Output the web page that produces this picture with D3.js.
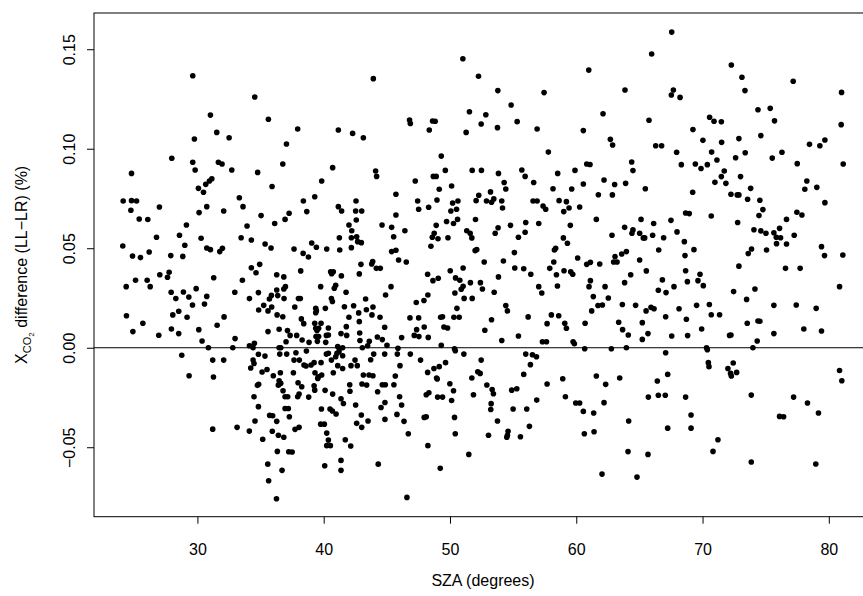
<!DOCTYPE html>
<html>
<head>
<meta charset="utf-8">
<script src="https://d3js.org/d3.v7.min.js"></script>
<style>
  body { margin: 0; background: #fff; }
  svg { display: block; }
  text { font-family: "Liberation Sans", Arial, Helvetica, sans-serif; fill: #000; }
</style>
</head>
<body>
<div id="chart"></div>
<script>
// --- Data ---
const xTicks = [30, 40, 50, 60, 70, 80];
const yTicks = [-0.05, 0, 0.05, 0.10, 0.15];
const yTickLabels = ["\u22120.05", "0.00", "0.05", "0.10", "0.15"];

// [SZA (deg), XCO2 difference LL-LR (%)]
const points = [
  [29.63,0.1367],[34.54,0.126],[31.03,0.1169],[35.62,0.1148],[31.53,0.1082],[29.76,0.1049],[32.51,0.1055],[27.97,0.0952],[29.63,0.0932],[31.66,0.0932],[31.95,0.0923],[29.82,0.0893],[32.72,0.0893],[34.77,0.0881],[24.78,0.0876],[31.14,0.0849],
  [43.93,0.1352],[37.94,0.1099],[41.16,0.1094],[42.29,0.1077],[43.14,0.1055],[37.05,0.1024],[46.8,0.1144],[46.86,0.1127],[48.62,0.1139],[48.83,0.1138],[48.36,0.1094],[36.76,0.0923],[40.71,0.0905],[49.31,0.0963],[44.11,0.0888],[44.19,0.0861],[49.63,0.0891],[48.68,0.0861],[48.91,0.0861],
  [51.02,0.1452],[52.26,0.1364],[53.79,0.1292],[57.45,0.1282],[60.99,0.1395],[63.86,0.1295],[54.84,0.122],[51.54,0.1186],[52.84,0.1171],[52.47,0.1124],[55.32,0.1136],[53.76,0.1106],[51.28,0.1082],[56.9,0.1099],[62.12,0.1176],[60.56,0.1091],[62.7,0.1047],[62.88,0.1019],[57.79,0.0983],[60.83,0.0923],[61.09,0.0921],[51.76,0.0891],[52.49,0.0891],[53.84,0.0876],[55.69,0.0893],[55.95,0.0861],[58.53,0.0876],[59.9,0.0891],[64.39,0.0933],[64.49,0.089],[62.2,0.0843],
  [67.56,0.1586],[65.97,0.1476],[72.28,0.1421],[73.12,0.1359],[77.18,0.1339],[67.69,0.1295],[67.53,0.127],[73.36,0.1292],[68.22,0.1258],[81.01,0.1283],[74.39,0.1196],[75.36,0.1203],[70.56,0.1158],[70.91,0.1138],[71.49,0.1135],[75.7,0.114],[65.76,0.1143],[80.98,0.1121],[69.24,0.1096],[74.62,0.1066],[72.88,0.1051],[70.03,0.1042],[71.51,0.1032],[66.29,0.1015],[66.76,0.1015],[78.47,0.1022],[79.29,0.1015],[79.69,0.1044],[67.95,0.0982],[70.72,0.0983],[73.38,0.098],[76.29,0.0982],[71.14,0.0943],[72.62,0.0955],[75.52,0.0953],[68.32,0.092],[69.43,0.0923],[69.88,0.0901],[70.38,0.092],[77.5,0.0925],[81.14,0.0923],[71.72,0.0888],[71.49,0.086],[73.01,0.086],
  [30.08,0.0801],[30.48,0.0781],[30.66,0.0821],[30.95,0.0838],[35.91,0.081],[24.12,0.0737],[24.78,0.0739],[25.18,0.0737],[24.73,0.0691],[26.99,0.0707],[33.32,0.0754],[33.61,0.0709],[30.74,0.0709],[30.13,0.0679],[32.08,0.0687],[35.04,0.0664],[25.39,0.0647],[26.07,0.0644],[36.12,0.0624],[29.13,0.0617],[33.93,0.0612],[28.58,0.0565],[26.76,0.0555],[30.29,0.055],[33.46,0.0553],[34.27,0.0541],[35.36,0.0521],[35.83,0.0501],[24.09,0.0511],[29.0,0.0515],[30.74,0.0501],[31.03,0.0493],[31.77,0.0483],[31.98,0.05],[24.86,0.0461],[25.49,0.0453],[26.18,0.0481],[27.89,0.0463],[28.84,0.0459],[34.27,0.0402],[34.64,0.0377],[34.93,0.0419],[27.02,0.0367],[27.76,0.0379],[27.63,0.0354],[31.29,0.0352],[33.56,0.0339],[24.36,0.0307],[25.1,0.0339],[26.02,0.0339],[26.26,0.0307],[27.92,0.0279],[28.89,0.028],[28.29,0.0247],[29.32,0.0255],[29.9,0.0297],[30.74,0.0258],[32.96,0.0279],[34.12,0.0247],[34.83,0.0277],[35.86,0.0263],[35.7,0.0245],[29.61,0.0215],[30.56,0.022],[35.25,0.0213],[35.88,0.0205],[35.59,0.0185],[34.85,0.019],[28.05,0.0165],[28.52,0.0183],[29.18,0.0153],[24.38,0.0161],[32.11,0.0155],[31.56,0.0113],[25.68,0.0123],[27.94,0.0094],[28.52,0.0071],[24.89,0.0081],[26.94,0.0063],[30.11,0.0091],[35.59,0.0081],[30.37,0.0034],[30.87,0.0],[32.98,0.0046],[32.8,0.0],[34.12,0.001],[34.51,0.0022],[34.41,0.0],
  [39.84,0.0838],[47.25,0.0838],[50.13,0.0813],[49.15,0.0796],[45.72,0.0771],[39.29,0.0759],[38.39,0.0737],[42.56,0.0737],[47.44,0.0737],[47.52,0.0696],[48.31,0.0706],[48.97,0.0742],[50.21,0.0727],[50.63,0.0737],[50.52,0.0696],[50.07,0.0687],[41.16,0.0709],[41.42,0.0687],[42.53,0.0687],[43.01,0.0687],[38.66,0.0684],[37.26,0.0676],[36.94,0.0645],[45.72,0.0667],[42.58,0.0642],[49.73,0.0634],[50.6,0.0645],[50.28,0.0624],[42.0,0.0617],[42.22,0.0588],[44.62,0.0617],[45.38,0.0605],[46.43,0.0588],[48.91,0.0615],[48.75,0.0575],[48.6,0.0555],[49.05,0.0548],[48.49,0.051],[49.84,0.0553],[45.54,0.0558],[42.61,0.0558],[42.69,0.0533],[42.98,0.0528],[42.19,0.0553],[41.24,0.0553],[39.05,0.0526],[39.42,0.0505],[42.19,0.0503],[41.27,0.0491],[40.24,0.0496],[37.65,0.0496],[38.37,0.0474],[38.79,0.0456],[45.38,0.0483],[45.72,0.049],[45.93,0.0441],[46.54,0.0431],[43.88,0.0433],[43.8,0.0421],[42.95,0.0419],[44.17,0.0399],[44.48,0.0399],[50.02,0.0387],[38.18,0.0386],[40.55,0.0382],[40.76,0.0382],[40.63,0.0372],[41.4,0.0361],[42.82,0.0371],[48.23,0.0369],[48.65,0.0337],[49.07,0.0349],[50.44,0.0351],[36.84,0.0356],[36.28,0.0367],[36.97,0.0307],[36.84,0.0295],[36.28,0.029],[36.36,0.0262],[39.76,0.0307],[40.95,0.0314],[40.84,0.0299],[41.77,0.0279],[45.33,0.0307],[44.9,0.0265],[48.25,0.0265],[50.39,0.0275],[36.86,0.0247],[38.0,0.0247],[38.15,0.0247],[40.61,0.0247],[40.69,0.0232],[43.32,0.0245],[47.94,0.0237],[47.33,0.0227],[37.71,0.0205],[39.37,0.0198],[39.42,0.0186],[39.37,0.0176],[40.13,0.0198],[41.64,0.0206],[42.37,0.0211],[43.38,0.0191],[43.9,0.0205],[42.77,0.0175],[43.82,0.0165],[42.0,0.0153],[44.46,0.0153],[46.83,0.015],[47.52,0.015],[49.26,0.0153],[49.41,0.0156],[50.31,0.0153],[50.73,0.0153],[50.55,0.0198],[36.31,0.0165],[36.76,0.0156],[38.23,0.0145],[38.42,0.0121],[39.29,0.0123],[39.79,0.0123],[39.37,0.0098],[39.47,0.0086],[39.6,0.0098],[40.37,0.0099],[41.79,0.0106],[42.82,0.0131],[44.83,0.0103],[47.96,0.0104],[47.36,0.0091],[49.52,0.0104],[49.81,0.0099],[36.47,0.0093],[37.13,0.0086],[37.34,0.0062],[37.86,0.0062],[38.29,0.0039],[38.84,0.0027],[39.39,0.0056],[39.5,0.0032],[39.6,0.0056],[40.16,0.0027],[40.21,0.0062],[40.37,0.0064],[41.37,0.0071],[41.82,0.0062],[42.85,0.0074],[42.87,0.0036],[43.61,0.0032],[43.48,0.001],[44.25,0.0054],[44.64,0.0041],[46.17,0.0051],[47.17,0.0062],[47.54,0.0056],[48.28,0.0052],[37.02,0.003],[36.47,0.0],[36.6,0.0],[41.11,0.0006],[41.24,-0.0005],[41.5,0.0],[43.06,0.0],[45.01,0.0012],[45.88,-0.0003],[49.31,0.0012],[50.36,-0.0005],
  [54.29,0.083],[54.42,0.0798],[56.63,0.083],[60.56,0.0823],[63.04,0.082],[63.91,0.0826],[58.16,0.0799],[59.64,0.0798],[53.21,0.0783],[52.28,0.0766],[52.07,0.0739],[52.89,0.0737],[53.29,0.0731],[53.47,0.0748],[54.1,0.0737],[54.16,0.0702],[56.58,0.0737],[56.9,0.0737],[57.37,0.0712],[57.58,0.0696],[58.64,0.0739],[59.22,0.0734],[59.01,0.0684],[59.43,0.0702],[60.27,0.0707],[61.75,0.0769],[62.86,0.0768],[52.02,0.0644],[54.79,0.0615],[53.81,0.0603],[53.58,0.0575],[56.0,0.0629],[55.95,0.058],[57.03,0.0624],[59.53,0.0615],[61.59,0.0645],[65.13,0.0645],[63.83,0.0605],[64.49,0.0592],[64.41,0.0575],[65.02,0.0575],[65.31,0.0552],[62.83,0.0565],[51.33,0.0588],[51.6,0.0575],[51.73,0.0552],[55.42,0.0555],[58.98,0.0552],[59.3,0.0525],[58.27,0.0491],[58.37,0.05],[51.99,0.0488],[52.12,0.0493],[55.1,0.0478],[52.71,0.0431],[54.23,0.0436],[58.22,0.0431],[60.11,0.0451],[60.83,0.0419],[61.12,0.0429],[61.86,0.0421],[63.07,0.0458],[62.96,0.0431],[63.23,0.0431],[63.6,0.0471],[63.97,0.0483],[65.02,0.0441],[51.04,0.0401],[55.13,0.0401],[55.84,0.0397],[56.4,0.0369],[57.9,0.0399],[58.43,0.0367],[59.03,0.0387],[59.56,0.0382],[59.72,0.0369],[64.31,0.0367],[53.84,0.0356],[50.78,0.0339],[51.04,0.0309],[50.89,0.0294],[51.62,0.0327],[52.41,0.0327],[52.57,0.0295],[53.5,0.0279],[57.03,0.0307],[57.27,0.0275],[58.51,0.031],[61.12,0.0337],[61.01,0.0307],[62.28,0.0307],[63.83,0.0327],[51.12,0.0248],[51.76,0.0248],[61.35,0.0257],[62.54,0.025],[54.42,0.0212],[54.55,0.0185],[61.72,0.0212],[62.07,0.0215],[61.22,0.0185],[63.65,0.0217],[64.7,0.0213],[53.29,0.0141],[56.19,0.0155],[58.03,0.0165],[58.61,0.0161],[57.69,0.0121],[59.09,0.0123],[59.22,0.0098],[60.7,0.0123],[63.36,0.0128],[63.67,0.0091],[64.12,0.0064],[65.23,0.0126],[65.23,0.0042],[52.76,0.0088],[55.42,0.0059],[54.1,0.0036],[57.32,0.003],[57.64,0.003],[59.75,0.003],[59.85,0.002],[60.67,-0.0005],[62.78,-0.0005],[63.97,0.0],
  [65.47,0.0799],[70.98,0.0831],[71.85,0.0826],[78.26,0.0838],[69.22,0.0781],[72.25,0.0771],[72.75,0.0768],[72.88,0.0768],[73.81,0.0801],[73.57,0.0746],[74.54,0.0741],[78.1,0.0796],[79.05,0.0806],[79.69,0.0729],[68.66,0.0677],[68.95,0.0674],[70.69,0.0662],[74.78,0.0694],[74.47,0.0664],[77.47,0.0681],[77.87,0.0667],[66.13,0.0624],[67.5,0.064],[72.78,0.0629],[76.65,0.0645],[67.98,0.0582],[66.05,0.0565],[65.42,0.0552],[66.92,0.0553],[68.56,0.0533],[69.32,0.0493],[66.53,0.0491],[68.61,0.0463],[74.07,0.0593],[74.62,0.0587],[75.02,0.0575],[75.65,0.0578],[76.1,0.06],[75.84,0.0555],[76.18,0.0553],[75.86,0.0523],[76.65,0.0521],[77.26,0.0565],[75.07,0.0491],[73.88,0.0496],[73.62,0.0473],[79.42,0.0508],[79.66,0.0463],[81.11,0.0466],[72.88,0.041],[76.57,0.0399],[77.73,0.0399],[65.55,0.0386],[68.66,0.0387],[69.8,0.0369],[69.64,0.0337],[68.8,0.0332],[66.82,0.0341],[70.06,0.0312],[67.74,0.0307],[66.5,0.0289],[67.11,0.0277],[72.46,0.0282],[74.15,0.0295],[80.85,0.0307],[73.49,0.0243],[65.92,0.0203],[66.16,0.0196],[65.53,0.0185],[68.14,0.0196],[69.53,0.0213],[70.54,0.0217],[70.69,0.0166],[71.35,0.0166],[75.65,0.0213],[77.42,0.0215],[79.0,0.0198],[67.08,0.0156],[68.72,0.0143],[69.93,0.0094],[73.54,0.0123],[74.39,0.0134],[74.54,0.0133],[78.02,0.0094],[79.42,0.0084],[65.68,0.0071],[67.56,0.0059],[68.82,0.0061],[72.14,0.0062],[72.25,0.0064],[75.65,0.0071],[74.33,0.0034],[70.32,0.0],[70.38,-0.001],[73.99,0.0],
  [28.76,-0.0038],[31.21,-0.0062],[32.08,-0.0062],[29.34,-0.0141],[31.27,-0.0147],[34.41,-0.0062],[34.48,-0.0079],[34.22,-0.0102],[34.83,-0.0033],[35.35,-0.0042],[35.12,-0.0122],[35.51,-0.0109],[36.01,-0.0141],[34.85,-0.0184],[34.75,-0.0189],[34.48,-0.0246],[34.83,-0.0296],[35.72,-0.034],[35.96,-0.0342],[34.56,-0.0368],[31.21,-0.0409],[33.14,-0.04],[34.11,-0.0419],[35.93,-0.042],[35.17,-0.046],[35.57,-0.0585],[35.64,-0.0668],
  [36.52,-0.0032],[37.07,-0.0032],[37.8,-0.0025],[38.63,-0.0017],[40.21,-0.0032],[40.37,-0.0028],[41.05,-0.0028],[41.5,-0.004],[41.21,-0.002],[43.96,-0.0032],[44.83,-0.0032],[45.83,-0.0032],[46.86,-0.0032],[50.42,-0.0015],[37.65,-0.0062],[38.07,-0.0062],[38.44,-0.0087],[38.6,-0.0092],[39.0,-0.0087],[39.24,-0.0075],[39.79,-0.0075],[40.61,-0.0062],[40.95,-0.0045],[41.11,-0.009],[41.5,-0.0104],[42.48,-0.0062],[42.16,-0.009],[42.66,-0.009],[43.72,-0.006],[46.04,-0.009],[47.67,-0.0062],[49.65,-0.0075],[49.15,-0.0095],[48.73,-0.0104],[48.23,-0.0124],[48.94,-0.0152],[48.99,-0.0157],[36.57,-0.0126],[37.6,-0.0126],[39.31,-0.0126],[39.58,-0.0146],[39.84,-0.0137],[39.53,-0.0154],[40.76,-0.0126],[43.14,-0.0137],[43.59,-0.0137],[43.9,-0.0141],[45.67,-0.0142],[36.47,-0.0166],[36.6,-0.0179],[36.41,-0.0188],[37.97,-0.0176],[38.26,-0.0196],[39.24,-0.0191],[39.29,-0.0213],[40.11,-0.0214],[40.71,-0.0233],[42.06,-0.0186],[42.08,-0.0219],[43.03,-0.0182],[43.4,-0.0187],[44.64,-0.0186],[44.88,-0.0186],[45.56,-0.0186],[44.27,-0.0221],[46.01,-0.0246],[48.12,-0.0236],[48.33,-0.0226],[49.02,-0.0248],[49.41,-0.0248],[49.99,-0.0181],[50.28,-0.0216],[50.13,-0.0265],[36.78,-0.0216],[36.94,-0.0246],[37.15,-0.0246],[37.94,-0.0246],[38.05,-0.0233],[38.81,-0.0248],[41.37,-0.0256],[41.56,-0.028],[42.53,-0.0288],[44.85,-0.0275],[44.54,-0.03],[46.17,-0.0288],[36.94,-0.0305],[37.2,-0.0305],[39.82,-0.0308],[40.5,-0.0308],[40.69,-0.0318],[40.98,-0.0333],[42.98,-0.0338],[43.01,-0.04],[42.61,-0.038],[43.51,-0.0368],[44.85,-0.036],[45.8,-0.0335],[46.36,-0.037],[47.96,-0.035],[48.12,-0.0347],[50.36,-0.035],[37.28,-0.0347],[36.28,-0.037],[39.76,-0.0384],[40.05,-0.0384],[37.73,-0.041],[38.05,-0.04],[40.24,-0.0429],[36.41,-0.044],[36.84,-0.045],[40.37,-0.0464],[41.71,-0.0462],[46.7,-0.0432],[50.42,-0.0432],[40.24,-0.0492],[40.53,-0.0492],[42.14,-0.0494],[48.25,-0.0492],[36.33,-0.0521],[37.23,-0.0523],[37.5,-0.0524],[41.37,-0.0566],[40.08,-0.0593],[41.37,-0.0616],[44.32,-0.0585],[49.23,-0.0606],[36.7,-0.0616],[36.26,-0.0759],[46.59,-0.0752],
  [51.1,-0.0032],[52.47,-0.0062],[56.0,-0.0032],[56.53,-0.0035],[56.85,-0.0045],[56.37,-0.0085],[52.2,-0.0121],[52.39,-0.0129],[51.73,-0.0152],[55.84,-0.0134],[52.92,-0.0187],[53.34,-0.021],[53.44,-0.0231],[51.86,-0.0236],[54.89,-0.0213],[55.29,-0.0206],[57.69,-0.0182],[58.93,-0.0156],[61.59,-0.0142],[62.33,-0.0184],[63.44,-0.0152],[59.14,-0.0246],[59.96,-0.0278],[60.27,-0.0278],[62.2,-0.0276],[60.56,-0.032],[61.38,-0.0328],[56.87,-0.0263],[53.26,-0.0281],[53.23,-0.031],[55.0,-0.0308],[56.08,-0.0308],[53.76,-0.0368],[56.29,-0.0395],[64.15,-0.0368],[54.6,-0.042],[54.55,-0.044],[54.5,-0.045],[53.05,-0.044],[55.58,-0.0447],[60.64,-0.0432],[61.41,-0.0422],[51.49,-0.0536],[64.1,-0.0522],[62.04,-0.0635],[64.81,-0.065],
  [67.08,-0.0025],[70.46,-0.0075],[70.51,-0.0095],[72.01,-0.0104],[72.43,-0.0077],[72.22,-0.0129],[72.28,-0.0142],[72.7,-0.0124],[80.85,-0.0114],[81.03,-0.0166],[66.42,-0.0167],[67.24,-0.0134],[65.71,-0.0248],[66.5,-0.0239],[67.05,-0.0239],[68.66,-0.0248],[73.86,-0.0238],[77.21,-0.0248],[78.31,-0.0278],[79.18,-0.0328],[69.09,-0.0338],[76.1,-0.0345],[76.42,-0.0347],[67.24,-0.0404],[69.09,-0.0404],[71.22,-0.0462],[65.68,-0.0536],[70.83,-0.0521],[73.86,-0.0574],[78.97,-0.0584]
];

// --- Size and plot region ---
const W = 863, H = 596;
const plot = { left: 94, top: 13, right: 872, bottom: 516.7 };

const svg = d3.select("#chart")
  .append("svg")
    .attr("width", W)
    .attr("height", H);

// --- Scales ---
const x = d3.scaleLinear()
  .domain([21.81, 83.42])
  .range([plot.left, plot.right]);

const y = d3.scaleLinear()
  .domain([-0.0849, 0.1682])
  .range([plot.bottom, plot.top]);

// --- Axes ---
const xAxis = svg.append("g")
  .attr("transform", `translate(0,${plot.bottom})`)
  .call(d3.axisBottom(x).tickValues(xTicks).tickSize(7).tickFormat(d => d));
xAxis.select(".domain").remove();
xAxis.selectAll("line").attr("stroke", "#000");
xAxis.selectAll("text")
  .attr("y", 38).attr("dy", 0)
  .style("font-size", "16px");

const yAxis = svg.append("g")
  .attr("transform", `translate(${plot.left},0)`)
  .call(d3.axisLeft(y).tickValues(yTicks).tickSize(7)
    .tickFormat((d, i) => yTickLabels[i]));
yAxis.select(".domain").remove();
yAxis.selectAll("line").attr("stroke", "#000");
yAxis.selectAll("text")
  .attr("x", 0).attr("dy", 0)
  .attr("text-anchor", "middle")
  .attr("transform", "translate(-19,0) rotate(-90)")
  .style("font-size", "16px");

// --- Box and zero line ---
svg.append("rect")
  .attr("x", plot.left)
  .attr("y", plot.top)
  .attr("width", plot.right - plot.left)
  .attr("height", plot.bottom - plot.top)
  .attr("fill", "none")
  .attr("stroke", "#000")
  .attr("stroke-width", 1);

svg.append("line")
  .attr("x1", plot.left).attr("x2", plot.right)
  .attr("y1", y(0)).attr("y2", y(0))
  .attr("stroke", "#000")
  .attr("stroke-width", 1);

// --- Points ---
svg.append("g")
  .selectAll("circle")
  .data(points)
  .join("circle")
    .attr("cx", d => x(d[0]))
    .attr("cy", d => y(d[1]))
    .attr("r", 2.8)
    .attr("fill", "#000");

// --- Axis titles ---
svg.append("text")
  .attr("x", (plot.left + plot.right) / 2)
  .attr("y", 586)
  .attr("text-anchor", "middle")
  .style("font-size", "16px")
  .text("SZA (degrees)");

const yLabel = svg.append("text")
  .attr("transform", `translate(27,${(plot.top + plot.bottom) / 2}) rotate(-90)`)
  .attr("text-anchor", "middle")
  .style("font-size", "16px");
yLabel.append("tspan").text("X");
yLabel.append("tspan").attr("dy", 4).style("font-size", "11px").text("CO");
yLabel.append("tspan").attr("dy", 3).style("font-size", "8px").text("2");
yLabel.append("tspan").attr("dy", -7).text(" difference (LL\u2212LR) (%)");
</script>
</body>
</html>
